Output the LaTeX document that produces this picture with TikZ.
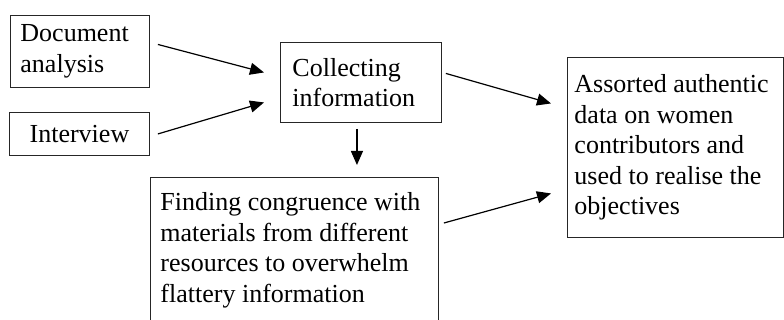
\documentclass[tikz,border=0pt]{standalone}
\usepackage{fontspec}
\setmainfont{Liberation Serif}
\usetikzlibrary{arrows.meta,calc}

\begin{document}
\begin{tikzpicture}[x=1pt,y=-1pt,
		box/.style={draw=black!85, line width=0.9pt, inner xsep=10pt, inner ysep=0pt, align=flush left, anchor=north west, font=\fontsize{26}{30.5}\selectfont},
		arr/.style={line width=1.2pt, -{Triangle[length=14pt,width=12pt]}}]
			\clip (0,0) rectangle (784,320);
			\node[box, text width=119pt, minimum height=72pt] (doc) at (10,15) {Document\\analysis};
			\node[box, text width=120pt, minimum height=43pt, align=center] (intv) at (9,112) {Interview};
			\node[box, text width=137pt, minimum height=80pt, inner xsep=12pt] (coll) at (280,42) {Collecting\\information};
			\node[box, text width=268pt, minimum height=146pt] (find) at (150,177) {Finding congruence with\\materials from different\\resources to overwhelm\\flattery information};
			\node[box, text width=202pt, minimum height=180pt, inner xsep=7pt] (asrt) at (567,57) {Assorted authentic\\data on women\\contributors and\\used to realise the\\objectives};
			\draw[arr] ([shift={(8,-7)}]doc.east) -- ([shift={(-16,-10)}]coll.west);
			\draw[arr] ([shift={(8,0)}]intv.east) -- ([shift={(-16,20)}]coll.west);
			\draw[arr] ([shift={(-4,6)}]coll.south) -- ($(coll.south |- find.north)+(-4,-12)$);
			\draw[arr] ([shift={(4,-9)}]coll.east) -- ([shift={(-16,-44)}]asrt.west);
			\draw[arr] ([shift={(5,46)}]find.north east) -- ([shift={(-16,46)}]asrt.west);
		\end{tikzpicture}
\end{document}
